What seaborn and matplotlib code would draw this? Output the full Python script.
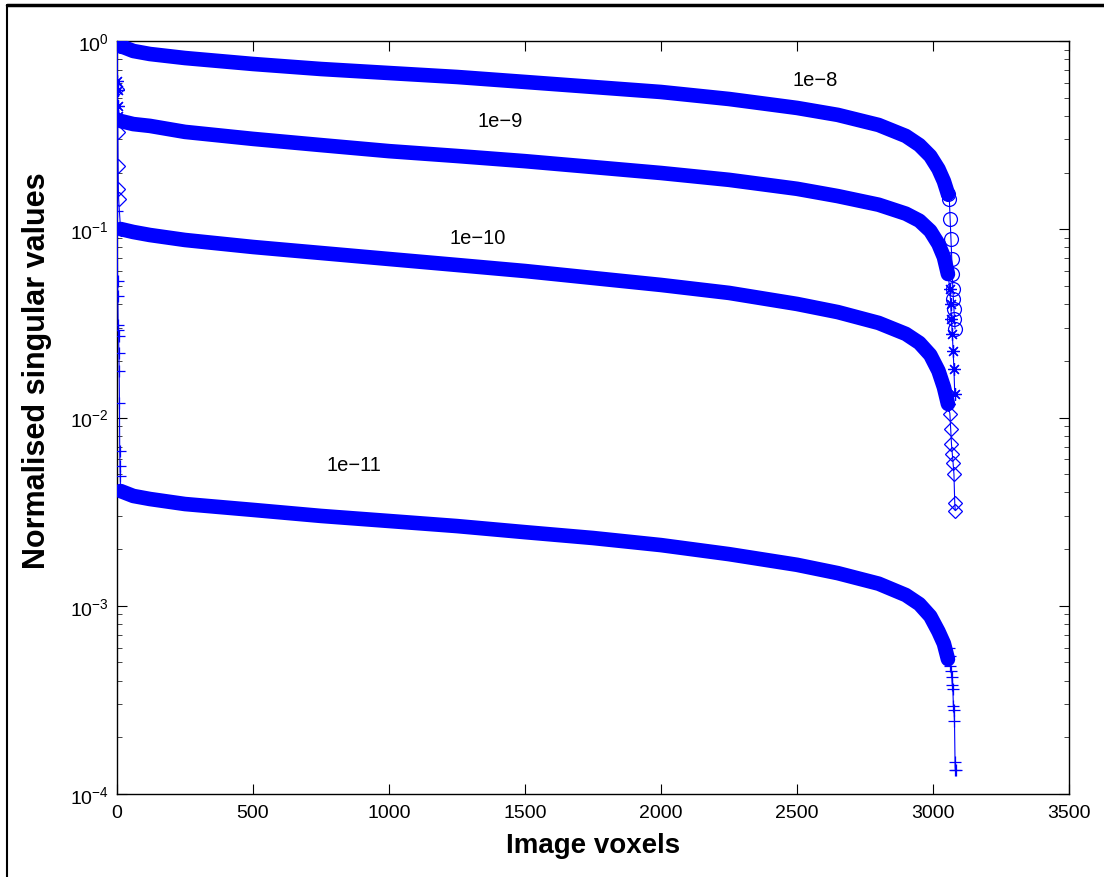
import numpy as np
import pandas as pd
import matplotlib
matplotlib.use("Agg")
import matplotlib.pyplot as plt
import seaborn as sns
from matplotlib.lines import Line2D
from matplotlib.ticker import LogLocator, FixedLocator, NullFormatter

# ---------------- data ----------------
labels = ["1e\u22128", "1e\u22129", "1e\u221210", "1e\u221211"]

# head: the first few singular values that fall off the left end
head_x_8 = [0]
head_y_8 = [1.0]
head_x_9 = [0, 1, 2, 3, 4]
head_y_9 = [1.0, 0.61, 0.55, 0.45, 0.40]
head_x_10 = [0, 1, 2, 3, 4, 5, 6]
head_y_10 = [1.0, 0.556, 0.385, 0.33, 0.217, 0.163, 0.145]
head_x_11 = [0, 1, 2, 3, 4, 5, 6, 7, 8, 9, 10, 11, 12]
head_y_11 = [1.0, 0.125, 0.053, 0.044, 0.031, 0.029, 0.027, 0.022,
             0.0177, 0.012, 0.0066, 0.0055, 0.0049]

# body: the dense band of singular values
body_x = [13, 60, 121, 250, 500, 750, 1000, 1250, 1500, 1750, 2000, 2250,
          2500, 2650, 2800, 2900, 2950, 2990, 3020, 3040, 3055]
body_y_8 = [0.941, 0.885, 0.853, 0.812, 0.755, 0.710, 0.676, 0.644, 0.606,
            0.570, 0.536, 0.492, 0.441, 0.405, 0.358, 0.313, 0.280, 0.245,
            0.209, 0.180, 0.154]
body_y_9 = [0.376, 0.362, 0.354, 0.329, 0.302, 0.280, 0.260, 0.245, 0.230,
            0.214, 0.199, 0.183, 0.164, 0.150, 0.135, 0.121, 0.111, 0.098,
            0.0835, 0.0712, 0.0578]
body_y_10 = [0.1003, 0.0967, 0.0932, 0.0877, 0.0805, 0.0748, 0.0695, 0.0646,
             0.0600, 0.0551, 0.0506, 0.0459, 0.0401, 0.0363, 0.0318, 0.0278,
             0.0249, 0.0215, 0.0177, 0.0145, 0.0118]
body_y_11 = [0.00407, 0.00383, 0.00369, 0.00347, 0.00323, 0.00300, 0.00282,
             0.00265, 0.00246, 0.00229, 0.00210, 0.00188, 0.00165, 0.00149,
             0.00131, 0.00114, 0.00102, 0.00088, 0.00073, 0.00063, 0.00052]

# tail: the last singular values, seen as separate markers
tail_x_8 = [3060, 3063, 3066, 3069, 3071, 3073, 3075, 3077, 3079, 3081]
tail_y_8 = [0.145, 0.113, 0.089, 0.0695, 0.058, 0.048, 0.0425, 0.0376,
            0.0335, 0.0295]
tail_x_9 = [3062, 3065, 3068, 3071, 3074, 3077, 3080]
tail_y_9 = [0.048, 0.040, 0.0335, 0.0277, 0.0226, 0.0181, 0.0133]
tail_x_10 = [3062, 3065, 3068, 3071, 3074, 3077, 3080, 3082]
tail_y_10 = [0.0105, 0.0087, 0.0072, 0.0064, 0.0057, 0.0050, 0.0035, 0.0032]
tail_x_11 = [3058, 3061, 3064, 3067, 3069, 3071, 3073, 3075, 3077, 3079,
             3081, 3082, 3083]
tail_y_11 = [6.0e-4, 5.4e-4, 4.8e-4, 4.5e-4, 4.2e-4, 3.8e-4, 3.6e-4,
             2.93e-4, 2.8e-4, 2.44e-4, 1.48e-4, 1.34e-4, 1.34e-4]

text_x = [2566, 1408, 1327, 871]
text_y = [0.628, 0.376, 0.0906, 0.00565]

x_ticks = [0, 500, 1000, 1500, 2000, 2500, 3000, 3500]

series = [
    (head_x_8, head_y_8, body_y_8, tail_x_8, tail_y_8, "o", 10),
    (head_x_9, head_y_9, body_y_9, tail_x_9, tail_y_9, (8, 2, 0), 9),
    (head_x_10, head_y_10, body_y_10, tail_x_10, tail_y_10, "D", 7.5),
    (head_x_11, head_y_11, body_y_11, tail_x_11, tail_y_11, "+", 9),
]

# ---------------- style ----------------
sns.set_style("ticks")
plt.rcParams["font.family"] = ["Liberation Sans", "DejaVu Sans"]
plt.rcParams["mathtext.fontset"] = "custom"
plt.rcParams["mathtext.rm"] = "Liberation Sans"
plt.rcParams["mathtext.it"] = "Liberation Sans"
plt.rcParams["mathtext.default"] = "regular"
plt.rcParams["text.color"] = "black"
plt.rcParams["axes.labelcolor"] = "black"

fig = plt.figure(figsize=(11.04, 8.78), dpi=100)
ax = fig.add_axes([117 / 1104, 1 - 795 / 878, (1069 - 117) / 1104, (795 - 42) / 878])

blue = (0, 0, 1)
for hx, hy, by, tx, ty, mk, ms in series:
    xs = list(hx) + list(body_x) + list(tx)
    ys = list(hy) + list(by) + list(ty)
    df = pd.DataFrame({"x": xs, "y": ys})
    n_head, n_body, n_tail = len(hx), len(body_x), len(tx)
    mark_idx = list(range(n_head)) + [n_head, n_head + n_body - 1] + \
        list(range(n_head + n_body, n_head + n_body + n_tail))
    # thin line with open markers (separate values at both ends)
    sns.lineplot(data=df, x="x", y="y", ax=ax, estimator=None, sort=False,
                 color=blue, lw=0.8, marker=mk, markersize=ms,
                 markevery=mark_idx,
                 markerfacecolor="none", markeredgecolor=blue,
                 markeredgewidth=0.9, zorder=3)
    # dense band of overlapping markers
    dfb = pd.DataFrame({"x": body_x, "y": by})
    sns.lineplot(data=dfb, x="x", y="y", ax=ax, estimator=None, sort=False,
                 color=blue, lw=10.5, solid_capstyle="round",
                 solid_joinstyle="round", zorder=4)

ax.set_yscale("log")
ax.set_xlim(0, 3500)
ax.set_ylim(1e-4, 1)
ax.xaxis.set_major_locator(FixedLocator(x_ticks))
ax.yaxis.set_major_locator(LogLocator(base=10, numticks=10))
ax.yaxis.set_minor_locator(LogLocator(base=10, subs=np.arange(2, 10), numticks=20))
ax.yaxis.set_minor_formatter(NullFormatter())

for s in ax.spines.values():
    s.set_visible(True)
    s.set_color("black")
    s.set_linewidth(1.0)

ax.tick_params(axis="both", which="major", direction="in", length=7, width=0.8,
               top=True, right=True, labelsize=14, colors="black", pad=6)
ax.tick_params(axis="both", which="minor", direction="in", length=3.5, width=0.6,
               top=True, right=True)
ax.tick_params(axis="x", which="major", pad=7)

ax.set_xlabel("Image voxels", fontsize=20, fontweight="bold", labelpad=8,
              color="black")
ax.set_ylabel("Normalised singular values", fontsize=22, fontweight="bold",
              color="black")
ax.yaxis.set_label_coords(-0.068, 0.563)
ax.grid(False)

for lab, tx_, ty_ in zip(labels, text_x, text_y):
    ax.text(tx_, ty_, lab, fontsize=14.5, ha="center", va="center", color="black",
            zorder=6)

# figure frame (top and left edges visible)
fig.add_artist(Line2D([7 / 1104, 1.0], [1 - 6 / 878, 1 - 6 / 878],
                      transform=fig.transFigure, color="black", lw=2.5))
fig.add_artist(Line2D([7 / 1104, 7 / 1104], [0.0, 1 - 6 / 878],
                      transform=fig.transFigure, color="black", lw=1.5))

fig.savefig("out.png", dpi=100, facecolor="white")
